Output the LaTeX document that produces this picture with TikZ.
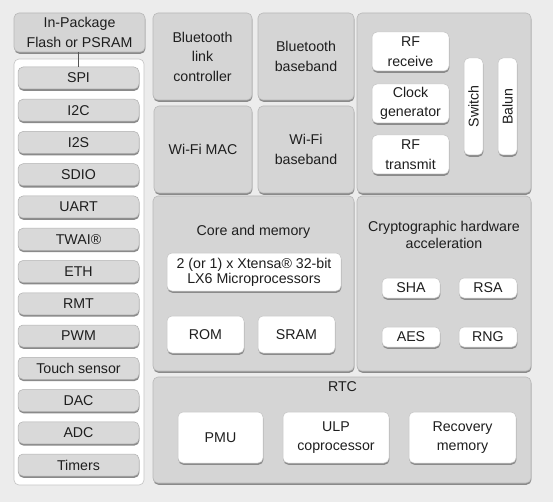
\documentclass[tikz,border=0pt]{standalone}
\usepackage{fontspec}
\setmainfont{Liberation Sans}
\definecolor{bgc}{HTML}{ECECEC}
\definecolor{panelc}{HTML}{D5D5D5}
\definecolor{panelb}{HTML}{B8B8B8}
\definecolor{shad}{HTML}{8A8A8A}
\definecolor{pillc}{HTML}{D9D9D9}
\definecolor{pillb}{HTML}{B0B0B0}
\definecolor{wb}{HTML}{C4C4C4}
\definecolor{txt}{HTML}{1E1E1E}
\definecolor{linec}{HTML}{555555}
\tikzset{
  base/.style={rounded corners=5pt, align=center, inner sep=0pt, text=txt,
    font=\fontsize{14.2}{19.5}\selectfont},
  shadowed/.style={preaction={fill=shad, transform canvas={xshift=0.4pt,yshift=-1.8pt}}},
  panel/.style={base, shadowed, fill=panelc, draw=panelb, line width=0.6pt},
  pill/.style={base, shadowed, fill=pillc, draw=pillb, line width=0.5pt,
    minimum width=121pt, minimum height=22pt},
  wbox/.style={base, shadowed, fill=white, draw=wb, line width=0.5pt},
  label/.style={align=center, inner sep=0pt, text=txt, font=\fontsize{14.2}{17}\selectfont},
}
\begin{document}
\begin{tikzpicture}[x=1pt,y=-1pt]
\useasboundingbox (0,0) rectangle (553,502);
\fill[bgc] (0,0) rectangle (553,502);

% left column
\node[panel, minimum width=131pt, minimum height=39pt] (inpkg) at (79.5,32.5) {In-Package\\Flash or PSRAM};
\node[base, fill=white, draw=wb, line width=0.6pt, minimum width=130pt, minimum height=426pt] (iopanel) at (79,272) {};
\node[pill] (spi)   at (78.5,78)    {SPI};
\node[pill] (i2c)   at (78.5,110.25) {I2C};
\node[pill] (i2s)   at (78.5,142.5) {I2S};
\node[pill] (sdio)  at (78.5,174.75) {SDIO};
\node[pill] (uart)  at (78.5,207)   {UART};
\node[pill] (twai)  at (78.5,239.25) {TWAI®};
\node[pill] (eth)   at (78.5,271.5) {ETH};
\node[pill] (rmt)   at (78.5,303.75) {RMT};
\node[pill] (pwm)   at (78.5,336)   {PWM};
\node[pill] (touch) at (78.5,368.25) {Touch sensor};
\node[pill] (dac)   at (78.5,400.5) {DAC};
\node[pill] (adc)   at (78.5,432.75) {ADC};
\node[pill] (tmr)   at (78.5,465)   {Timers};
\draw[linec, line width=0.6pt] (spi.north -| 78,0) -- (inpkg.south -| 78,0);

% wireless blocks
\node[panel, minimum width=99pt, minimum height=87pt] (btlc) at (202.5,56.5) {Bluetooth\\link\\controller};
\node[panel, minimum width=96pt, minimum height=87pt] (btbb) at (306,56.5) {Bluetooth\\baseband};
\node[panel, minimum width=98pt, minimum height=87pt] (wmac) at (203,149.5) {Wi-Fi MAC};
\node[panel, minimum width=96pt, minimum height=87pt] (wbb) at (306,149.5) {Wi-Fi\\baseband};

% RF
\node[panel, minimum width=174pt, minimum height=180pt] (rf) at (444,103) {};
\node[wbox, minimum width=77pt, minimum height=39pt] (rfrx) at (410.5,51.5) {RF\\receive};
\node[wbox, minimum width=77pt, minimum height=39pt] (clk) at (410.5,103.5) {Clock\\generator};
\node[wbox, minimum width=77pt, minimum height=39pt] (rftx) at (410.5,154.5) {RF\\transmit};
\node[wbox, rotate=90, minimum width=97pt, minimum height=19pt] (sw) at (473.5,106.5) {Switch};
\node[wbox, rotate=90, minimum width=97pt, minimum height=19pt] (balun) at (507.5,106.5) {Balun};

% core
\node[panel, minimum width=201pt, minimum height=175pt] (core) at (253.5,283.5) {};
\node[label] (coret) at (253.5,232) {Core and memory};
\node[wbox, minimum width=174pt, minimum height=38pt, font=\fontsize{14.2}{15}\selectfont] (cpu) at (254,272) {2 (or 1) x Xtensa® 32-bit\\LX6 Microprocessors};
\node[wbox, minimum width=77pt, minimum height=37pt] (rom) at (205.5,334.5) {ROM};
\node[wbox, minimum width=77pt, minimum height=37pt] (sram) at (296.5,334.5) {SRAM};

% crypto
\node[panel, minimum width=174pt, minimum height=175pt] (crypto) at (444,283.5) {};
\node[label] (cryptot) at (444,234.5) {Cryptographic hardware\\acceleration};
\node[wbox, minimum width=58pt, minimum height=20pt] (sha) at (411,288) {SHA};
\node[wbox, minimum width=58pt, minimum height=20pt] (rsa) at (488,288) {RSA};
\node[wbox, minimum width=58pt, minimum height=20pt] (aes) at (411,337) {AES};
\node[wbox, minimum width=58pt, minimum height=20pt] (rng) at (488,337) {RNG};

% RTC
\node[panel, minimum width=378pt, minimum height=106pt] (rtc) at (342,430) {};
\node[label] (rtct) at (342.5,387) {RTC};
\node[wbox, minimum width=85pt, minimum height=51pt, font=\fontsize{14.2}{19}\selectfont] (pmu) at (220.5,437.5) {PMU};
\node[wbox, minimum width=106pt, minimum height=51pt, font=\fontsize{14.2}{19}\selectfont] (ulp) at (336,437.5) {ULP\\coprocessor};
\node[wbox, minimum width=107pt, minimum height=51pt, font=\fontsize{14.2}{19}\selectfont] (rec) at (462.5,437.5) {Recovery\\memory};
\end{tikzpicture}
\end{document}
